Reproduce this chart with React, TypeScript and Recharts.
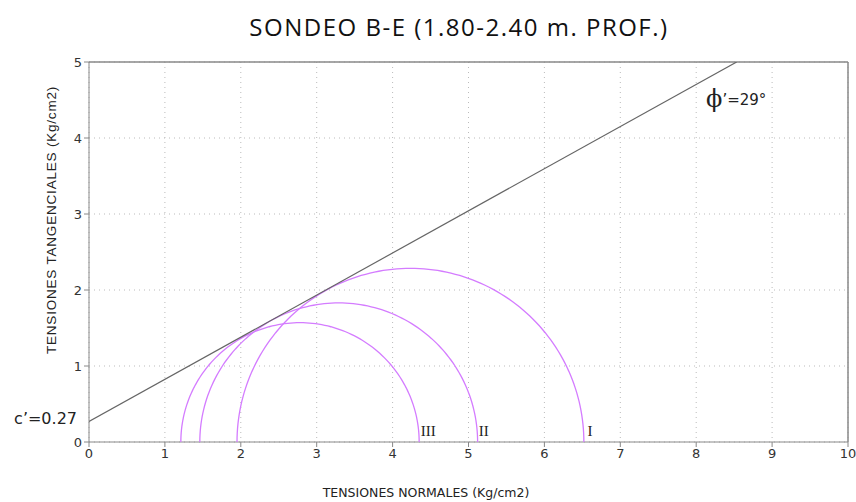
import React from "react";
import {
  ComposedChart,
  XAxis,
  YAxis,
  CartesianGrid,
  Scatter,
  ReferenceLine,
  ReferenceDot,
} from "recharts";

// Mohr circles: minor and major principal stresses (kg/cm2)
const circleNames = ["I", "II", "III"];
const sigma3 = [1.95, 1.46, 1.21];
const sigma1 = [6.52, 5.12, 4.35];

// Failure envelope
const cohesion = 0.27;
const phiDeg = 29;

const xTicks = [0, 1, 2, 3, 4, 5, 6, 7, 8, 9, 10];
const yTicks = [0, 1, 2, 3, 4, 5];

const labelX = [6.6, 5.2, 4.47];
const labelY = [0.13, 0.13, 0.13];

const title = "SONDEO B-E (1.80-2.40 m. PROF.)";
const xLabel = "TENSIONES NORMALES (Kg/cm2)";
const yLabel = "TENSIONES TANGENCIALES (Kg/cm2)";

function semicircle(s3: number, s1: number) {
  const c = (s1 + s3) / 2;
  const r = (s1 - s3) / 2;
  const pts: { x: number; y: number }[] = [];
  for (let a = 0; a <= 180; a += 1.5) {
    const t = (a * Math.PI) / 180;
    pts.push({ x: c + r * Math.cos(t), y: r * Math.sin(t) });
  }
  return pts;
}

const tanPhi = Math.tan((phiDeg * Math.PI) / 180);
const envelope = [
  { x: 0, y: cohesion },
  { x: (5 - cohesion) / tanPhi, y: 5 },
];

const circles = sigma3.map((s3, i) => semicircle(s3, sigma1[i]));

const tickStyle = { fill: "#333", fontSize: 13, fontFamily: "DejaVu Sans" };

export default function App() {
  return (
    <div style={{ position: "relative", width: 856, height: 502, overflow: "hidden" }}>
      <style>{"body{margin:0}"}</style>
      <div
        style={{
          position: "absolute",
          left: 62,
          top: 10,
          width: 794,
          textAlign: "center",
          fontFamily: "Open Sans",
          fontSize: 24,
          letterSpacing: 1.5,
          color: "#111",
          whiteSpace: "nowrap",
        }}
      >
        {title}
      </div>
      <div
        style={{
          position: "absolute",
          left: 208,
          top: 485,
          width: 436,
          textAlign: "center",
          fontFamily: "DejaVu Sans",
          fontSize: 12.5,
          lineHeight: "15px",
          color: "#222",
        }}
      >
        {xLabel}
      </div>
      <ComposedChart
        width={856}
        height={502}
        margin={{ top: 62, right: 8, left: 8, bottom: 30 }}
        style={{ position: "absolute", left: 0, top: 0 }}
      >
        <CartesianGrid
          stroke="#bbb"
          strokeDasharray="1 4"
          horizontalValues={yTicks}
          verticalValues={xTicks}
        />
        <XAxis
          type="number"
          dataKey="x"
          domain={[0, 10]}
          ticks={xTicks}
          interval={0}
          allowDataOverflow
          height={30}
          stroke="#888"
          tickSize={5}
          tick={tickStyle}
        />
        <YAxis
          type="number"
          dataKey="y"
          domain={[0, 5]}
          ticks={yTicks}
          interval={0}
          allowDataOverflow
          width={81}
          stroke="#888"
          tickSize={5}
          tick={tickStyle}
          label={{
            content: (p: any) => {
              const cx = p.viewBox.x + 44;
              const cy = p.viewBox.y + 158;
              return (
                <text
                  x={cx}
                  y={cy}
                  transform={`rotate(-90 ${cx} ${cy})`}
                  textAnchor="middle"
                  dominantBaseline="middle"
                  fontFamily="Liberation Sans"
                  fontSize={13.5}
                  letterSpacing={0.8}
                  fill="#222"
                >
                  {yLabel}
                </text>
              );
            },
          }}
        />
        <ReferenceLine y={5} stroke="#888" strokeWidth={1.5} />
        <ReferenceLine x={10} stroke="#888" strokeWidth={1.5} />
        {circles.map((pts, i) => (
          <Scatter
            key={circleNames[i]}
            data={pts}
            line={{ stroke: "#d47cff", strokeWidth: 1.3 }}
            lineType="joint"
            shape={() => null}
            isAnimationActive={false}
          />
        ))}
        <Scatter
          data={envelope}
          line={{ stroke: "#666", strokeWidth: 1.2 }}
          lineType="joint"
          shape={() => null}
          isAnimationActive={false}
        />
        {circleNames.map((n, i) => (
          <ReferenceDot
            key={"l" + n}
            x={labelX[i]}
            y={labelY[i]}
            r={0}
            fill="none"
            stroke="none"
            label={{
              content: (p: any) => (
                <text
                  x={p.viewBox.x}
                  y={p.viewBox.y}
                  textAnchor="middle"
                  dominantBaseline="middle"
                  fontFamily="Liberation Serif"
                  fontSize={15}
                  fill="#222"
                >
                  {n}
                </text>
              ),
            }}
          />
        ))}
        <ReferenceDot
          x={0}
          y={cohesion}
          r={0}
          fill="none"
          stroke="none"
          ifOverflow="visible"
          label={{
            content: (p: any) => (
              <text
                x={p.viewBox.x - 12}
                y={p.viewBox.y - 2}
                textAnchor="end"
                dominantBaseline="middle"
                fontFamily="DejaVu Sans"
                fontSize={16}
                fill="#222"
              >
                {"c’=" + cohesion.toFixed(2)}
              </text>
            ),
          }}
        />
        <ReferenceDot
          x={8.13}
          y={4.5}
          r={0}
          fill="none"
          stroke="none"
          label={{
            content: (p: any) => (
              <text
                x={p.viewBox.x}
                y={p.viewBox.y}
                textAnchor="start"
                dominantBaseline="middle"
                fontFamily="DejaVu Sans"
                fontSize={15}
                fill="#222"
              >
                <tspan fontSize={24} fontFamily="DejaVu Serif">ϕ</tspan>
                <tspan>{"’=" + phiDeg + "°"}</tspan>
              </text>
            ),
          }}
        />
      </ComposedChart>
    </div>
  );
}
